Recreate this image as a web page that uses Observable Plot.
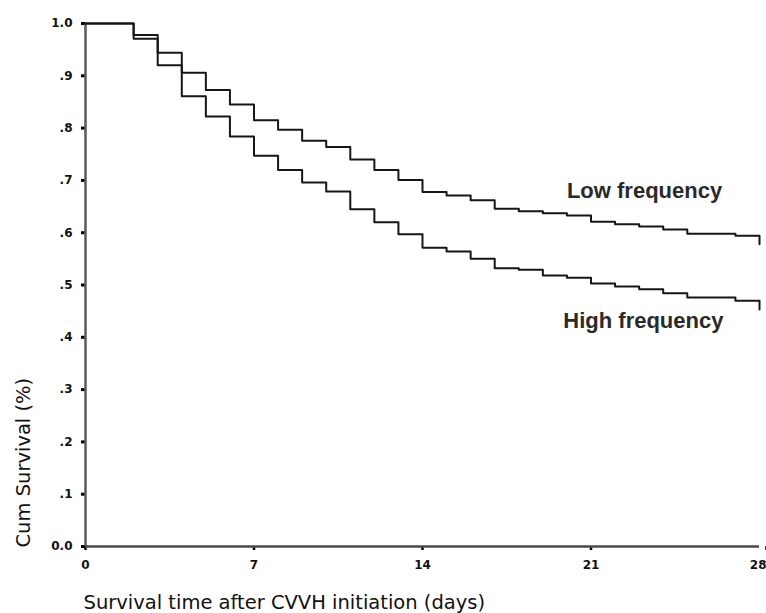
<!DOCTYPE html>
<html>
<head>
<meta charset="utf-8">
<script src="https://cdn.jsdelivr.net/npm/d3@7"></script>
<script src="https://cdn.jsdelivr.net/npm/@observablehq/plot@0.6"></script>
<style>
  html, body { margin: 0; padding: 0; background: #fff; }
  #chart svg { display: block; }
</style>
</head>
<body>
<div id="chart"></div>
<script>
// ---- data ----
const days = [0, 1, 2, 3, 4, 5, 6, 7, 8, 9, 10, 11, 12, 13, 14, 15, 16, 17, 18, 19, 20, 21, 22, 23, 24, 25, 26, 27, 28];
const lowFrequency = [1.000, 1.000, 0.978, 0.944, 0.906, 0.873, 0.845, 0.815, 0.797, 0.776, 0.764, 0.740, 0.720, 0.701, 0.678, 0.671, 0.662, 0.646, 0.641, 0.637, 0.633, 0.621, 0.616, 0.612, 0.606, 0.598, 0.598, 0.594, 0.578];
const highFrequency = [1.000, 1.000, 0.971, 0.920, 0.861, 0.822, 0.784, 0.747, 0.720, 0.696, 0.679, 0.645, 0.620, 0.597, 0.571, 0.564, 0.550, 0.532, 0.529, 0.518, 0.514, 0.503, 0.497, 0.492, 0.484, 0.476, 0.476, 0.470, 0.453];
const seriesNames = ["Low frequency", "High frequency"];
const labelDays = [20.0, 19.85];
const labelValues = [0.679, 0.432];
const xTicks = [0, 7, 14, 21, 28];
const yTicks = [0, 0.1, 0.2, 0.3, 0.4, 0.5, 0.6, 0.7, 0.8, 0.9, 1.0];
const yTickLabels = ["0.0", ".1", ".2", ".3", ".4", ".5", ".6", ".7", ".8", ".9", "1.0"];
const xTitle = "Survival time after CVVH initiation (days)";
const yTitle = "Cum Survival (%)";

// ---- tables built from the arrays ----
const rows = days.flatMap((d, i) => [
  {day: d, survival: lowFrequency[i], group: seriesNames[0]},
  {day: d, survival: highFrequency[i], group: seriesNames[1]}
]);
const labels = seriesNames.map((name, i) => ({name, day: labelDays[i], value: labelValues[i]}));
const yLabelMap = new Map(yTicks.map((t, i) => [Math.round(t * 10), yTickLabels[i]]));
const lastX = xTicks[xTicks.length - 1];

const tickText = {fontSize: 12, fontWeight: "bold", fill: "#111"};

const chart = Plot.plot({
  width: 766,
  height: 613,
  marginLeft: 85,
  marginRight: 7,
  marginTop: 23,
  marginBottom: 67,
  style: {fontFamily: "'DejaVu Sans', Verdana, sans-serif", fontSize: "12px", color: "#000", background: "#fff"},
  x: {domain: [0, 28]},
  y: {domain: [0, 1]},
  marks: [
    Plot.axisY({
      ticks: yTicks,
      tickFormat: (d) => yLabelMap.get(Math.round(d * 10)),
      tickSize: 4,
      tickPadding: 9,
      strokeWidth: 3,
      stroke: "#000",
      ...tickText,
      label: null
    }),
    Plot.axisX({
      ticks: xTicks.filter((t) => t !== lastX),
      tickFormat: (d) => String(d),
      tickSize: 4,
      tickPadding: 10,
      strokeWidth: 2.5,
      stroke: "#000",
      ...tickText,
      label: null
    }),
    Plot.axisX({
      ticks: [lastX],
      tickFormat: (d) => String(d),
      tickSize: 4,
      tickPadding: 10,
      strokeWidth: 2.5,
      stroke: "#000",
      ...tickText,
      textAnchor: "end",
      dx: 7,
      label: null
    }),
    Plot.ruleX([0], {stroke: "#5a5a5a", strokeWidth: 2.5}),
    Plot.ruleY([0], {stroke: "#4a4a4a", strokeWidth: 2.5}),
    Plot.line(rows, {x: "day", y: "survival", z: "group", curve: "step-after", stroke: "#161616", strokeWidth: 2}),
    Plot.text(labels, {
      x: "day", y: "value", text: "name",
      textAnchor: "start", lineAnchor: "middle",
      fontFamily: "'Liberation Sans', Arial, sans-serif",
      fontWeight: "bold", fontSize: 22, fill: "#2a2a2a",
      style: "letter-spacing:-0.4px"
    }),
    Plot.text([yTitle], {
      frameAnchor: "bottom-left", rotate: -90, textAnchor: "start", lineAnchor: "middle",
      dx: -62, dy: 1, fontSize: 19.5, fill: "#111"
    }),
    Plot.text([xTitle], {
      frameAnchor: "bottom-left", textAnchor: "start", lineAnchor: "top",
      dx: -2, dy: 49, fontSize: 19.5, fill: "#111"
    })
  ]
});
document.getElementById("chart").appendChild(chart);
</script>
</body>
</html>
